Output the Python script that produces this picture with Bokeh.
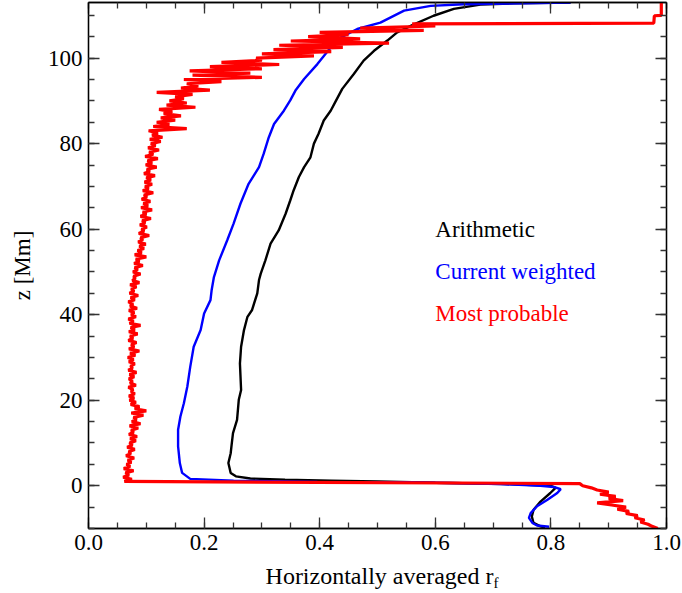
import numpy as np
from bokeh.plotting import figure
from bokeh.layouts import column
from bokeh.models import (LinearAxis, Range1d, FixedTicker, PrintfTickFormatter,
                          Label, Div)
from bokeh.embed import file_html
from bokeh.resources import INLINE

# ---------------- data ----------------
x_ticks = [0.0, 0.2, 0.4, 0.6, 0.8, 1.0]
y_ticks = [0, 20, 40, 60, 80, 100]

arith_z = [-9.8, -9.5, -8.7, -7.2, -5.6, -3.7, -1.7, -0.5, 0.0, 0.4, 0.7, 1.0, 1.2,
           1.4, 1.7, 2.2, 3.0, 5.3, 7.6, 10.0, 12.3, 15.4, 20.1, 22.4, 25.5, 28.6,
           32.5, 36.4, 39.5, 41.1, 45.0, 48.1, 49.6, 52.7, 56.6, 59.7, 63.6, 66.7,
           69.1, 72.2, 74.5, 76.8, 80.0, 82.3, 85.4, 87.7, 90.0, 92.8, 96.3, 99.4,
           101.7, 104.1, 106.0, 107.9, 109.9, 111.5, 112.5, 112.8, 113.0]
arith_r = [0.790, 0.782, 0.770, 0.767, 0.770, 0.782, 0.799, 0.808, 0.800, 0.720, 0.600,
           0.500, 0.420, 0.340, 0.280, 0.255, 0.246, 0.242, 0.246, 0.248, 0.250, 0.257,
           0.260, 0.264, 0.263, 0.262, 0.264, 0.269, 0.275, 0.283, 0.292, 0.295, 0.298,
           0.306, 0.315, 0.329, 0.341, 0.349, 0.355, 0.364, 0.373, 0.384, 0.390, 0.398,
           0.407, 0.419, 0.428, 0.439, 0.459, 0.476, 0.494, 0.517, 0.534, 0.563, 0.597,
           0.632, 0.678, 0.736, 0.834]

curw_z = [-9.6, -9.3, -8.7, -7.5, -6.4, -4.8, -3.3, -1.7, -0.8, -0.3, 0.0, 0.4, 0.8,
          0.9, 1.2, 1.6, 3.0, 5.3, 9.2, 13.1, 16.2, 19.3, 23.2, 27.8, 32.5, 36.4, 40.3,
          43.4, 45.7, 48.8, 52.7, 57.4, 61.3, 66.0, 70.6, 74.5, 77.6, 81.5, 84.6, 87.7,
          90.1, 92.4, 95.1, 98.6, 102.5, 104.8, 106.8, 108.3, 111.1, 112.2, 112.6, 113.0]
curw_r = [0.797, 0.776, 0.768, 0.762, 0.765, 0.776, 0.794, 0.811, 0.817, 0.805, 0.782,
          0.713, 0.557, 0.396, 0.251, 0.176, 0.162, 0.158, 0.155, 0.155, 0.159, 0.165,
          0.171, 0.176, 0.182, 0.194, 0.200, 0.211, 0.213, 0.217, 0.226, 0.240, 0.251,
          0.263, 0.277, 0.295, 0.303, 0.312, 0.321, 0.338, 0.349, 0.358, 0.373, 0.396,
          0.419, 0.436, 0.465, 0.505, 0.546, 0.592, 0.649, 0.834]

# most probable: sampled every 0.5 Mm from z=-10 to z=108
mp_low = [0.985, 0.975, 0.968, 0.955, 0.962, 0.945, 0.950, 0.930, 0.935, 0.915,
          0.930, 0.905, 0.880, 0.925, 0.900, 0.912, 0.885, 0.900, 0.880, 0.870, 0.855, 0.850]
mp_mid = [0.062, 0.075, 0.060, 0.070, 0.064, 0.078, 0.061, 0.072, 0.066, 0.074,
          0.068, 0.079, 0.065, 0.073, 0.070, 0.080, 0.067, 0.076, 0.071, 0.082,
          0.072, 0.084, 0.070, 0.078, 0.074, 0.086, 0.071, 0.090, 0.075, 0.083,
          0.078, 0.095, 0.074, 0.100, 0.080, 0.088, 0.073, 0.082, 0.071, 0.079,
          0.070, 0.080, 0.074, 0.077, 0.069, 0.082, 0.072, 0.076, 0.070, 0.079,
          0.071, 0.083, 0.069, 0.076, 0.073, 0.080, 0.070, 0.078, 0.068, 0.081,
          0.072, 0.088, 0.070, 0.079, 0.074, 0.083, 0.069, 0.077, 0.072, 0.085,
          0.070, 0.080, 0.073, 0.090, 0.071, 0.078, 0.069, 0.082, 0.074, 0.079,
          0.070, 0.084, 0.072, 0.077, 0.069, 0.080, 0.073, 0.086, 0.071, 0.079,
          0.074, 0.083, 0.072, 0.088, 0.076, 0.081, 0.078, 0.090, 0.077, 0.085,
          0.080, 0.094, 0.079, 0.088, 0.082, 0.100, 0.080, 0.092, 0.085, 0.096,
          0.088, 0.099, 0.086, 0.094, 0.090, 0.105, 0.087, 0.096, 0.092, 0.101,
          0.089, 0.098, 0.093, 0.108, 0.090, 0.100, 0.094, 0.110, 0.091, 0.103,
          0.095, 0.107, 0.092, 0.101, 0.096, 0.112, 0.094, 0.104, 0.098, 0.110,
          0.097, 0.108, 0.100, 0.115, 0.096, 0.106, 0.101, 0.118, 0.099, 0.110,
          0.102, 0.120, 0.098, 0.112, 0.105, 0.122, 0.103, 0.116, 0.108, 0.125,
          0.106, 0.128, 0.110, 0.120, 0.104, 0.170, 0.112, 0.140, 0.118, 0.150,
          0.125, 0.160, 0.130, 0.145, 0.122, 0.185, 0.135, 0.170, 0.140, 0.165,
          0.150, 0.180, 0.118, 0.210, 0.160, 0.190, 0.170, 0.230, 0.165, 0.300,
          0.180, 0.280, 0.175, 0.300, 0.210, 0.330, 0.230, 0.300, 0.290, 0.390,
          0.300, 0.420, 0.320, 0.440, 0.330, 0.520, 0.350, 0.470, 0.380, 0.450,
          0.400, 0.580, 0.470, 0.600, 0.560]
mp_top_z = [108.2, 109.9, 110.0, 113.0]
mp_top_r = [0.978, 0.979, 0.991, 0.991]

mp_z = list(np.arange(len(mp_low) + len(mp_mid)) * 0.5 - 10.0) + mp_top_z
mp_r = mp_low + mp_mid + mp_top_r

legend_labels = ["Arithmetic", "Current weighted", "Most probable"]
legend_colors = ["black", "#0000ff", "#ff0000"]

FONT = "Liberation Serif"

# ---------------- figure ----------------
p = figure(width=682, height=560, x_range=Range1d(0, 1.0), y_range=Range1d(-10, 113),
           output_backend="svg", toolbar_location=None,
           min_border_left=88, min_border_right=16, min_border_top=2,
           min_border_bottom=32)
p.xgrid.visible = False
p.ygrid.visible = False
p.outline_line_color = "black"
p.outline_line_width = 1.3
p.background_fill_color = "white"
p.border_fill_color = "white"

p.line(arith_r, arith_z, line_color="black", line_width=2.4)
p.line(curw_r, curw_z, line_color="#0000ff", line_width=2.4)
p.line(mp_r, mp_z, line_color="#ff0000", line_width=3.2)

x_minor = [i * 0.05 for i in range(21)]
y_minor = [-10 + 5 * i for i in range(25)]


def style(ax, labels=True):
    ax.major_tick_in = 11
    ax.major_tick_out = 0
    ax.minor_tick_in = 6
    ax.minor_tick_out = 0
    ax.axis_line_color = "black"
    ax.axis_line_width = 1.3
    ax.major_tick_line_color = "#333333"
    ax.minor_tick_line_color = "#333333"
    ax.major_tick_line_width = 1.3
    ax.minor_tick_line_width = 1.3
    ax.major_label_text_font = FONT
    ax.major_label_text_font_size = "23px"
    ax.major_label_text_color = "black"
    ax.axis_label_text_font = FONT
    ax.axis_label_text_font_size = "23px"
    ax.axis_label_text_font_style = "normal"
    ax.axis_label_text_color = "black"
    if not labels:
        ax.major_label_text_font_size = "0px"
        ax.major_label_standoff = 0
        ax.major_label_text_color = None


xa = p.xaxis[0]
xa.ticker = FixedTicker(ticks=x_ticks, minor_ticks=x_minor)
xa.formatter = PrintfTickFormatter(format="%.1f")
style(xa)
xa.major_label_standoff = 6

ya = p.yaxis[0]
ya.ticker = FixedTicker(ticks=y_ticks, minor_ticks=y_minor)
ya.formatter = PrintfTickFormatter(format="%d")
style(ya)
ya.major_label_standoff = 6
ya.axis_label = "z [Mm]"
ya.axis_label_standoff = 10

top = LinearAxis(ticker=FixedTicker(ticks=x_ticks, minor_ticks=x_minor))
style(top, labels=False)
p.add_layout(top, "above")
right = LinearAxis(ticker=FixedTicker(ticks=y_ticks, minor_ticks=y_minor))
style(right, labels=False)
p.add_layout(right, "right")

# legend texts
for lab, col, zpos in zip(legend_labels, legend_colors, [60.0, 50.0, 40.2]):
    p.add_layout(Label(x=0.60, y=zpos, text=lab, text_color=col, text_font=FONT,
                       text_font_size="23px", text_baseline="alphabetic"))

# x axis title with subscript, as HTML below the plot
xlabel = Div(text='Horizontally averaged r<span style="font-size:15px; line-height:1; '
                  'vertical-align:-4px;">f</span>',
             width=682, height=33,
             styles={"font-family": FONT, "font-size": "24px", "line-height": "22px",
                     "color": "black", "text-align": "center",
                     "padding-left": "72px", "box-sizing": "border-box",
                     "width": "682px", "white-space": "nowrap"})

layout = column(p, xlabel, spacing=0)

open("out.html", "w").write(file_html(layout, INLINE))
